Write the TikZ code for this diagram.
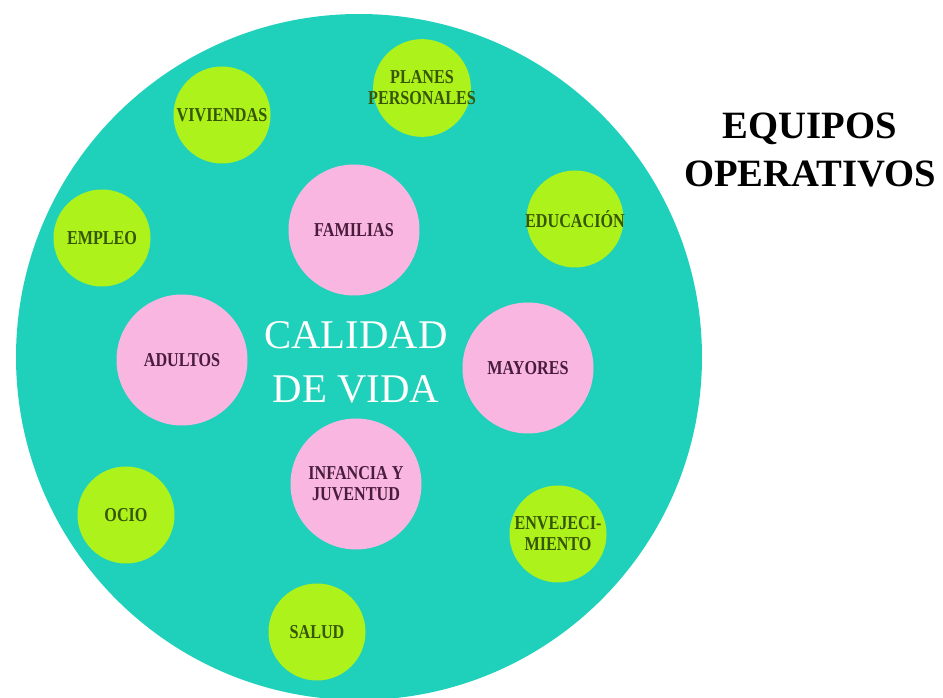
\documentclass[tikz,border=0pt]{standalone}
\usepackage{fontspec}
\setmainfont{Liberation Serif}
\newfontfamily\tagfont{Liberation Serif}[FakeStretch=0.82]
\usepackage{tikz}
\definecolor{turquesa}{HTML}{1FD1BB}
\definecolor{lima}{HTML}{AEF21C}
\definecolor{rosa}{HTML}{F8B6E0}
\definecolor{verdeosc}{HTML}{365604}
\definecolor{morado}{HTML}{4A1C3C}
\tikzset{
	area/.style={circle, inner xsep=-0.08cm, inner ysep=0pt, minimum size=0.97cm, fill=lima, text=verdeosc, align=center,
		font=\tagfont\bfseries\fontsize{5.6}{6}\selectfont},
	grupo/.style={circle, inner sep=0pt, minimum size=1.31cm, fill=rosa, text=morado, align=center,
		font=\tagfont\bfseries\fontsize{5.6}{6}\selectfont}
}

\begin{document}
\begin{tikzpicture}
\useasboundingbox (0,0) rectangle (9.43,6.98);
\node (calidad) [circle, inner sep=0pt, minimum size=6.86cm, fill=turquesa] at (3.59,3.41) {};
\node (lema) [text=white, align=center, font=\fontsize{11.6}{15.4}\selectfont] at (3.56,3.36) {CALIDAD\\DE VIDA};
\node (familias) [grupo] at (3.54,4.68) {FAMILIAS};
\node (adultos) [grupo] at (1.82,3.38) {ADULTOS};
\node (mayores) [grupo] at (5.28,3.30) {MAYORES};
\node (infancia) [grupo] at (3.56,2.14) {INFANCIA Y\\JUVENTUD};
\node (viviendas) [area] at (2.22,5.83) {VIVIENDAS};
\node (planes) [area] at (4.22,6.10) {PLANES\\PERSONALES};
\node (empleo) [area] at (1.02,4.60) {EMPLEO};
\node (educacion) [area] at (5.75,4.79) {EDUCACIÓN};
\node (ocio) [area] at (1.26,1.83) {OCIO};
\node (salud) [area] at (3.17,0.66) {SALUD};
\node (envejec) [area] at (5.58,1.64) {ENVEJECI-\\MIENTO};
\node (equipos) [align=center, font=\bfseries\fontsize{11}{13.4}\selectfont] at (8.10,5.48) {EQUIPOS\\OPERATIVOS};
\end{tikzpicture}
\end{document}
